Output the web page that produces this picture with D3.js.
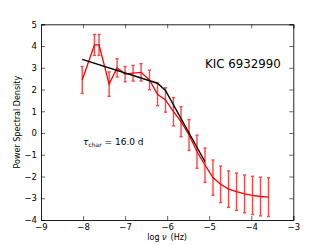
<!DOCTYPE html>
<html>
<head>
<meta charset="utf-8">
<script src="https://cdn.jsdelivr.net/npm/d3@7"></script>
<style>
  body { margin: 0; background: #fff; }
  svg { display: block; font-family: "DejaVu Sans", sans-serif; }
</style>
</head>
<body>
<svg id="chart" width="327" height="245"></svg>
<script>
// observed PSD (log nu, value, error)
const logNu = [-8.02, -7.73, -7.62, -7.38, -7.19, -7.0, -6.81, -6.62, -6.42, -6.23, -6.04, -5.85,
               -5.67, -5.48, -5.29, -5.10, -4.91, -4.73, -4.54, -4.35, -4.16, -3.97, -3.78, -3.59];
const psd = [2.44, 4.05, 4.05, 2.25, 3.0, 2.71, 2.75, 2.79, 2.44, 1.78, 1.52, 0.98,
             0.52, -0.09, -0.86, -1.48, -2.05, -2.36, -2.58, -2.7, -2.8, -2.87, -2.92, -2.95];
const psdErr = [0.62, 0.48, 0.48, 0.56, 0.42, 0.35, 0.36, 0.4, 0.45, 0.52, 0.56, 0.65,
                0.69, 0.71, 0.76, 0.79, 0.81, 0.84, 0.84, 0.86, 0.87, 0.88, 0.89, 0.89];

// broken power-law fit
const fitNu = [-8.02, -6.23, -6.04, -5.10];
const fitPsd = [3.39, 2.29, 1.96, -1.32];

const xTicks = [-9, -8, -7, -6, -5, -4, -3];
const yTicks = [-4, -3, -2, -1, 0, 1, 2, 3, 4, 5];

const svg = d3.select("#chart");
const plotL = 41, plotR = 293.3, plotT = 24.3, plotB = 220;

const x = d3.scaleLinear().domain([-9, -3]).range([plotL, plotR]);
const y = d3.scaleLinear().domain([-4, 5]).range([plotB, plotT]);

const fmt = d => d < 0 ? "\u2212" + Math.abs(d) : String(d);

// axes (ticks inward on all four sides)
const tickLen = 4;
svg.append("g")
   .attr("transform", `translate(0,${plotB})`)
   .call(d3.axisBottom(x).tickValues(xTicks).tickFormat(fmt).tickSize(-tickLen).tickPadding(4));
svg.append("g")
   .attr("transform", `translate(0,${plotT})`)
   .call(d3.axisTop(x).tickValues(xTicks).tickFormat("").tickSize(-tickLen));
svg.append("g")
   .attr("transform", `translate(${plotL},0)`)
   .call(d3.axisLeft(y).tickValues(yTicks).tickFormat(fmt).tickSize(-tickLen).tickPadding(4));
svg.append("g")
   .attr("transform", `translate(${plotR},0)`)
   .call(d3.axisRight(y).tickValues(yTicks).tickFormat("").tickSize(-tickLen));

svg.selectAll(".domain").attr("stroke", "#222").attr("stroke-width", 1);
svg.selectAll(".tick line").attr("stroke", "#000").attr("stroke-width", 0.6);
svg.selectAll(".tick text").attr("font-size", "8.5px").attr("fill", "#000")
   .attr("font-family", "DejaVu Sans");

// error bars
const bars = svg.append("g").attr("stroke", "#ff4545").attr("stroke-width", 1.4);
logNu.forEach((v, i) => {
  const cx = x(v), y0 = y(psd[i] - psdErr[i]), y1 = y(psd[i] + psdErr[i]);
  bars.append("line").attr("x1", cx).attr("x2", cx).attr("y1", y0).attr("y2", y1);
  bars.append("line").attr("x1", cx - 1.6).attr("x2", cx + 1.6).attr("y1", y0).attr("y2", y0);
  bars.append("line").attr("x1", cx - 1.6).attr("x2", cx + 1.6).attr("y1", y1).attr("y2", y1);
});

// data line
const line = d3.line().x(d => x(d[0])).y(d => y(d[1]));
svg.append("path")
   .datum(logNu.map((v, i) => [v, psd[i]]))
   .attr("d", line)
   .attr("fill", "none")
   .attr("stroke", "#ff0000")
   .attr("stroke-width", 1.3);

// fit line
svg.append("path")
   .datum(fitNu.map((v, i) => [v, fitPsd[i]]))
   .attr("d", line)
   .attr("fill", "none")
   .attr("stroke", "#000")
   .attr("stroke-width", 1.4);

// labels
svg.append("text")
   .attr("x", (plotL + plotR) / 2)
   .attr("y", 240)
   .attr("text-anchor", "middle")
   .attr("font-size", "8px")
   .html('log <tspan font-style="italic">\u03bd</tspan>\u2002(Hz)');

svg.append("text")
   .attr("transform", `translate(20,${(plotT + plotB) / 2}) rotate(-90)`)
   .attr("text-anchor", "middle")
   .attr("font-size", "8px")
   .text("Power Spectral Density");

svg.append("text")
   .attr("x", 205)
   .attr("y", 68)
   .attr("font-size", "11.8px")
   .text("KIC 6932990");

svg.append("text")
   .attr("x", 83)
   .attr("y", 145)
   .attr("font-size", "9px")
   .html('<tspan font-style="italic">\u03c4</tspan><tspan font-size="6px" dy="2">char</tspan><tspan dy="-2"> = 16.0 d</tspan>');
</script>
</body>
</html>
